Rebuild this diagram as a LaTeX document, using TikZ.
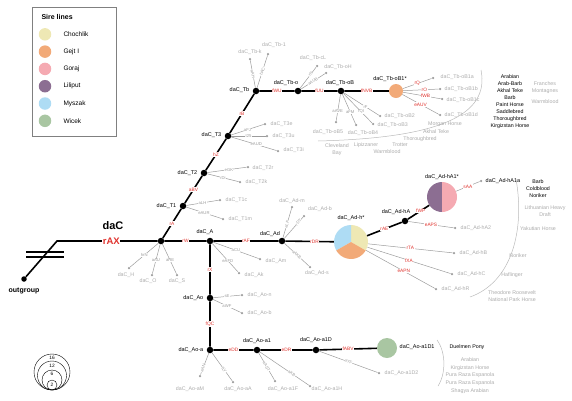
\documentclass[tikz,border=0pt]{standalone}
\usepackage{fontspec}
\setmainfont{Liberation Sans}
\usetikzlibrary{positioning,calc}

\definecolor{chochlik}{HTML}{EEE8B4}
\definecolor{gejt}{HTML}{F2AA78}
\definecolor{goraj}{HTML}{F5AAB2}
\definecolor{liliput}{HTML}{8C6E92}
\definecolor{myszak}{HTML}{AEDCF4}
\definecolor{wicek}{HTML}{A9C6A2}
\definecolor{mutred}{HTML}{E0332E}
\definecolor{twiggray}{HTML}{9C9C9C}
\newcommand{\fs}[1]{\fontsize{#1}{#1}\selectfont}

\begin{document}
\begin{tikzpicture}[x=1pt,y=-1pt,
    inner/.style={circle,fill=black,inner sep=0pt,minimum size=6.5pt},
    tip/.style={circle,fill=twiggray,inner sep=0pt,minimum size=2.5pt},
    pie/.style={circle,inner sep=0pt,minimum size=#1},
    stem/.style={line width=1.6pt},
    twig/.style={twiggray,line width=0.5pt},
    mut/.style={text=mutred,font=\fs{4.8},fill=white,inner sep=0.5pt},
    gmut/.style={text=twiggray,font=\fs{4.2},fill=white,inner sep=0.3pt},
    rot/.style={sloped},
    flat/.style={},
    nlab/.style={font=\fs{5.5},inner sep=0.5pt},
    glab/.style={text=twiggray!85,font=\fs{5.3},inner sep=0.5pt},
    breed/.style={font=\fs{5.3},align=center,inner sep=0pt},
    gbreed/.style={breed,text=twiggray!85},
    brace/.style={twiggray!70,line width=0.5pt}]
    \useasboundingbox (0,0) rectangle (572,400);

    % legend
    \node[draw=gray,line width=0.6pt,minimum width=84pt,minimum height=129pt,anchor=north west] (legend) at (32,7) {};
    \node[font=\fs{7}\bfseries,anchor=west] (sire) at (38,17) {Sire lines};
    \foreach \c/\n [count=\i] in {chochlik/Chochlik,gejt/Gejt I,goraj/Goraj,liliput/Liliput,myszak/Myszak,wicek/Wicek} {
        \node[circle,fill=\c,minimum size=12.5pt,inner sep=0pt] (key\i) at (45,{17+\i*17.3}) {};
        \node[font=\fs{6.5},anchor=west] (keyt\i) at (60,{17+\i*17.3}) {\n};
    }

    % size key
    \foreach \r/\n/\y in {18/16/358,14.5/12/365.5,10/6/374,5/2/385} {
        \node[circle,draw,line width=0.4pt,inner sep=0pt,minimum size={2*\r*1pt}] (size\n) at (52,{390-\r}) {};
        \node[font=\fs{4.8},inner sep=0pt] (sizet\n) at (52,\y) {\n};
    }

    % root and outgroup
    \node[inner] (R) at (161,241) {};
    \coordinate (K) at (57,241);
    \node[inner,minimum size=5.5pt] (Out) at (24,279) {};
    \node[font=\fs{7}\bfseries,below=2.5pt of Out] (Outl) {outgroup};
    \draw[stem] (Out) -- (K) -- node[pos=0.54,text=mutred,font=\fs{9.5}\bfseries,fill=white,inner sep=0.5pt] (rAX) {rAX} (R);
    \draw[line width=1.1pt] (26,252) -- (64,252) (26,257) -- (64,257);
    \node[font=\fs{11}\bfseries] (daC) at (113,226) {daC};

    % inner nodes
    \node[inner] (T1) at (183,206) {};
    \node[inner] (T2) at (204,173) {};
    \node[inner] (T3) at (228,136) {};
    \node[inner] (Tb) at (256,91) {};
    \node[inner] (Tbo) at (298,91) {};
    \node[inner] (TboB) at (341,91) {};
    \node[inner] (A) at (210,241) {};
    \node[inner] (Ad) at (282,241) {};
    \node[inner] (AdhA) at (405,221) {};
    \node[inner] (Ao) at (210,298) {};
    \node[inner] (Aoa) at (210,350) {};
    \node[inner] (Aoa1) at (257,350) {};
    \node[inner] (Aoa1D) at (316,350) {};

    % haplogroup pies
    \node[pie=14pt] (TboB1) at (396,91) {};
    \fill[gejt] (TboB1) circle (7);
    \node[pie=34pt] (Adh) at (351,242) {};
    \fill[chochlik] (Adh.center) -- ++(-90:17) arc[start angle=-90,end angle=30,radius=17] -- cycle;
    \fill[myszak] (Adh.center) -- ++(-90:17) arc[start angle=-90,end angle=-210,radius=17] -- cycle;
    \fill[gejt] (Adh.center) -- ++(-210:17) arc[start angle=-210,end angle=-330,radius=17] -- cycle;
    \node[pie=30pt] (AdhA1) at (442,197) {};
    \fill[liliput] (AdhA1.center) -- ++(90:15) arc[start angle=90,end angle=270,radius=15] -- cycle;
    \fill[goraj] (AdhA1.center) -- ++(-90:15) arc[start angle=-90,end angle=90,radius=15] -- cycle;
    \node[pie=20pt] (Aoa1D1) at (387,348) {};
    \fill[wicek] (Aoa1D1) circle (10);

    % backbone
    \draw[stem] (R) -- node[mut]{rA} (T1) -- node[mut]{aBV} (T2) -- node[mut]{hZ} (T3) -- node[mut]{rB} (Tb)
        -- node[mut]{fWU} (Tbo) -- node[mut]{fUU} (TboB) -- node[mut]{fNVB} (TboB1);
    \draw[stem] (R) -- node[mut]{rW} (A) -- node[mut]{rAF} (Ad) -- node[mut,pos=0.6]{rDR} (Adh);
    \draw[stem] (Adh) -- node[mut]{rAE} (AdhA) -- node[mut,pos=0.6]{fWP} (AdhA1);
    \draw[stem] (A) -- node[mut]{rX} (Ao) -- node[mut]{fQC} (Aoa) -- node[mut]{eDD} (Aoa1)
        -- node[mut]{eDR} (Aoa1D) -- node[mut]{fABV} (Aoa1D1);

    % inner labels
    \node[nlab,anchor=east] (T1l) at (177,206) {daC\_T1};
    \node[nlab,anchor=east] (T2l) at (198,173) {daC\_T2};
    \node[nlab,anchor=east] (T3l) at (222,135) {daC\_T3};
    \node[nlab,anchor=east] (Tbl) at (250,90) {daC\_Tb};
    \node[nlab] (Tbol) at (286,83) {daC\_Tb-o};
    \node[nlab] (TboBl) at (340,83) {daC\_Tb-oB};
    \node[nlab] (TboB1l) at (390,79) {daC\_Tb-oB1*};
    \node[nlab] (Al) at (205,232) {daC\_A};
    \node[nlab] (Adl) at (270,234) {daC\_Ad};
    \node[nlab] (Adhl) at (351,218) {daC\_Ad-h*};
    \node[nlab] (AdhAl) at (396,212) {daC\_Ad-hA};
    \node[nlab] (AdhA1l) at (442,177) {daC\_Ad-hA1*};
    \node[nlab,anchor=east] (Aol) at (204,298) {daC\_Ao};
    \node[nlab,anchor=east] (Aoal) at (204,350) {daC\_Ao-a};
    \node[nlab] (Aoa1l) at (257,341) {daC\_Ao-a1};
    \node[nlab] (Aoa1Dl) at (316,340) {daC\_Ao-a1D};
    \node[nlab,anchor=west] (Aoa1D1l) at (399,347) {daC\_Ao-a1D1};

    % tips with grey twigs
    \foreach \nm/\np/\tp/\an/\lab/\up/\mm/\qq/\how in {
        Tbk/{250,59}/{250,52}/center/daC\_Tb-k/Tb/aAH/0.5/rot,
        Tbi/{268,54}/{274,45}/center/daC\_Tb-1/Tb/hAC/0.5/rot,
        TbcL/{317,66}/{313,58}/center/daC\_Tb-cL/Tbo/rN/0.66/rot,
        TboH/{326,73}/{338,67}/center/daC\_Tb-oH/Tbo/aAUB/0.5/rot,
        oBv/{336,122}/{328,132}/center/daC\_Tb-oB5/TboB/aAVE/0.65/flat,
        oBiv/{356,125}/{363,133}/center/daC\_Tb-oB4/TboB/aFM/0.6/flat,
        oBiii/{373,124}/{377,125}/west/daC\_Tb-oB3/TboB/fQI/0.62/flat,
        oBii/{380,116}/{384,116}/west/daC\_Tb-oB2/TboB/rF/0.62/flat,
        T3e/{265,124}/{270,124}/west/daC\_T3e/T3/aFJ/0.5/flat,
        T3u/{267,136}/{272,136}/west/daC\_T3u/T3/t25/0.5/flat,
        T3i/{278,151}/{283,150}/west/daC\_T3i/T3/eAUD/0.55/flat,
        T2r/{248,167}/{252,168}/west/daC\_T2r/T2/eGK/0.55/flat,
        T2k/{240,182}/{245,182}/west/daC\_T2k/T2/rDi/0.5/flat,
        T1c/{220,200}/{225,200}/west/daC\_T1c/T1/aLH/0.5/flat,
        T1m/{223,219}/{228,219}/west/daC\_T1m/T1/eAUR/0.5/flat,
        H/{129,268}/{126,275}/center/daC\_H/R/hrN/0.5/flat,
        O/{152,275}/{148,281}/center/daC\_O/R/aAU/0.55/flat,
        S/{177,275}/{177,281}/center/daC\_S/R/aRE/0.55/flat,
        Am/{260,259}/{265,261}/west/daC\_Am/A/aCU/0.5/flat,
        Ak/{239,273}/{244,275}/west/daC\_Ak/A/eAFD/0.6/flat,
        Adm/{292,207}/{292,201}/center/daC\_Ad-m/Ad/aLF/0.45/rot,
        Adb/{304,216}/{320,209}/center/daC\_Ad-b/Ad/rDT/0.75/rot,
        Ads/{310,267}/{317,273}/center/daC\_Ad-s/Ad/aAKB/0.5/rot,
        Aon/{242,295}/{247,295}/west/daC\_Ao-n/Ao/sE/0.5/flat,
        Aob/{242,313}/{247,313}/west/daC\_Ao-b/Ao/aWF/0.5/flat,
        AoaM/{200,376}/{190,389}/center/daC\_Ao-aM/Aoa/aAN/0.7/rot,
        AoaA/{233,382}/{238,389}/center/daC\_Ao-aA/Aoa/fLY/0.6/rot,
        AoaiF/{275,381}/{283,389}/center/daC\_Ao-a1F/Aoa1/aAST/0.5/rot,
        AoaiH/{310,386}/{327,389}/center/daC\_Ao-a1H/Aoa1/aKB/0.65/rot,
        AoaiDii/{379,373}/{384,373}/west/daC\_Ao-a1D2/Aoa1D/aYF/0.5/rot} {
        \node[tip] (\nm) at (\np) {};
        \node[glab,anchor=\an] (\nm-l) at (\tp) {\lab};
        \draw[twig] (\up) -- node[gmut,pos=\qq,\how]{\mm} (\nm);
    }

    % tips with red mutations
    \foreach \nm/\np/\tp/\lab/\up/\mm/\qq in {
        oBia/{433,78}/{440,77}/daC\_Tb-oB1a/TboB1/rQ/0.5,
        oBib/{440,89}/{444,89}/daC\_Tb-oB1b/TboB1/rO/0.6,
        oBic/{442,99}/{446,100}/daC\_Tb-oB1c/TboB1/fWB/0.6,
        oBid/{440,115}/{444,115}/daC\_Tb-oB1d/TboB1/eAUV/0.5,
        AdhB/{454,253}/{459,253}/daC\_Ad-hB/Adh/rTA/0.5,
        AdhC/{452,274}/{457,274}/daC\_Ad-hC/Adh/fXA/0.5,
        AdhR/{436,289}/{441,289}/daC\_Ad-hR/Adh/eAPN/0.55,
        AdhAii/{455,228}/{460,228}/daC\_Ad-hA2/AdhA/eAPS/0.5} {
        \node[tip] (\nm) at (\np) {};
        \node[glab,anchor=west] (\nm-l) at (\tp) {\lab};
        \draw[twig] (\up) -- node[mut,pos=\qq]{\mm} (\nm);
    }
    \node[tip] (AdhAia) at (481,181) {};
    \node[nlab,anchor=west] (AdhAia-l) at (485,181) {daC\_Ad-hA1a};
    \draw[twig] (AdhA1) -- node[mut]{sAA} (AdhAia);

    % breeds of the Tb-oB clade
    \draw[brace] (318,141) .. controls (440,138) and (490,115) .. (481,70);
    \node[gbreed] (cb) at (337,149.5) {Cleveland\\[1pt]Bay};
    \node[gbreed] (lip) at (366,145) {Lipizzaner};
    \node[gbreed] (wb1) at (387,152) {Warmblood};
    \node[gbreed] (trot) at (400,144.5) {Trotter};
    \node[gbreed] (tb1) at (420,139) {Thoroughbred};
    \node[gbreed] (ak1) at (436,132) {Akhal Teke};
    \node[gbreed] (mh) at (445,124) {Morgan Horse};
    \node[breed,font=\fontsize{5.3}{7}\selectfont] (bB1) at (510,102)
        {Arabian\\Arab-Barb\\Akhal Teke\\Barb\\Paint Horse\\Saddlebred\\Thoroughbred\\Kirgizstan Horse};
    \node[gbreed] (fm) at (545,88) {Franches\\[1.5pt]Montagnes};
    \node[gbreed] (wb2) at (545,102) {Warmblood};

    % breeds of the Ad-h clade
    \draw[brace] (516,179) .. controls (525,230) and (512,282) .. (470,297);
    \node[breed] (bA1) at (538,188.5) {Barb\\[1.6pt]Coldblood\\[1.6pt]Noriker};
    \node[gbreed] (lhd) at (545,211) {Lithuanian Heavy\\[2.2pt]Draft};
    \node[gbreed] (yak) at (538,229) {Yakutian Horse};
    \node[gbreed] (nor) at (518,256) {Noriker};
    \node[gbreed] (haf) at (512,275) {Haflinger};
    \node[gbreed] (trn) at (512,296) {Theodore Roosevelt\\[2.2pt]National Park Horse};

    % breeds of the Ao-a1D clade
    \draw[brace] (437,340) .. controls (446,352) and (446,374) .. (438,386);
    \node[breed] (dp) at (467,347) {Duelmen Pony};
    \node[gbreed,font=\fontsize{5.3}{7.7}\selectfont] (bD2) at (470,375.5)
        {Arabian\\Kirgizstan Horse\\Pura Raza Espanola\\Pura Raza Espanola\\Shagya Arabian};
\end{tikzpicture}
\end{document}
